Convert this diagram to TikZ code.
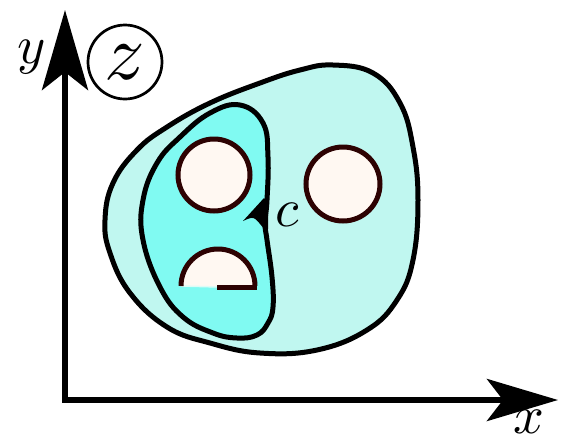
\documentclass[tikz,border=0pt]{standalone}
\usetikzlibrary{arrows.meta}
\definecolor{outerfill}{RGB}{192,247,240}
\definecolor{innerfill}{RGB}{128,250,242}
\definecolor{holefill}{RGB}{255,248,242}
\definecolor{holeline}{RGB}{45,2,2}
\definecolor{paleedge}{RGB}{222,252,247}
\tikzset{
  blob/.style={draw=black, line width=5pt},
  holestyle/.style={draw=holeline, fill=holefill, line width=5pt},
  axisline/.style={line width=6pt, line cap=rect},
  bigtext/.style={scale=5.4, inner sep=0pt}
}
\begin{document}
\begin{tikzpicture}[x=1pt,y=-1pt]
\useasboundingbox (0,0) rectangle (582,440);
% outer region
\path[blob, fill=outerfill] plot[smooth cycle, tension=0.7] coordinates {
 (333,65) (373,73) (400,103) (413,147) (418,200) (413,260) (397,300) (367,330)
 (317,350) (260,353) (210,343) (167,327) (130,293) (110,253) (105,220) (113,183)
 (137,150) (167,127) (210,103) (260,83) (300,70)};
% inner region
\path[blob, fill=innerfill] plot[smooth cycle, tension=0.7] coordinates {
 (240,105) (263,123) (268,157) (267,200) (265,223) (267,240) (272,277) (273,307)
 (268,323) (257,335) (237,338) (213,333) (183,317) (160,287) (143,240) (143,200)
 (157,163) (180,137) (210,113)};
% arrow head on the inner curve
\fill[black] (264,198) -- (243,221) .. controls (254,216) .. (264,229) -- (268,229) -- (268,202) -- cycle;
% holes
\path[holestyle] (214,175) circle (36);
\path[holestyle] (343,184) circle (37);
% half disc
\fill[holefill] (181,286) arc[start angle=180, end angle=360, radius=37] -- cycle;
\draw[paleedge, line width=1.5pt] (181,286) -- (218,287);
\draw[holeline, line width=5pt] (181,286) arc[start angle=180, end angle=360, radius=37];
\draw[holeline, line width=5pt] (217,287) -- (257,287);
% axes
\coordinate (O) at (65,400);
\coordinate (xend) at (558,400);
\coordinate (yend) at (65,10);
\draw[axisline, -{Stealth[length=71pt,width=42pt,inset=16pt]}] (O) -- (xend);
\draw[axisline, -{Stealth[length=80pt,width=46pt,inset=18pt]}] (O) -- (yend);
% labels
\node[bigtext] (ylab) at (32,57) {$y$};
\node[bigtext] (xlab) at (529,422) {$x$};
\node[bigtext] (clab) at (287,215) {$c$};
\node[circle, draw, line width=2.7pt, minimum size=74pt, inner sep=0pt] (zlab) at (125,62) {\scalebox{8}{$z$}};
\end{tikzpicture}
\end{document}
